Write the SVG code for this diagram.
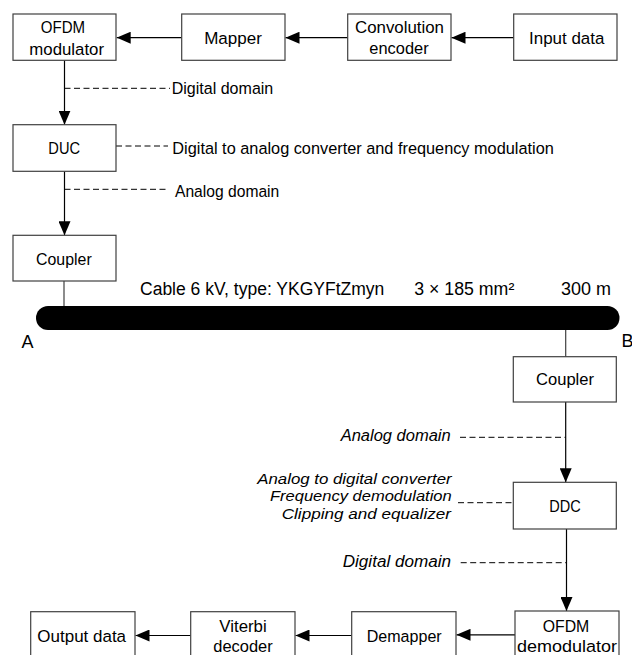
<svg xmlns="http://www.w3.org/2000/svg" width="632" height="655" viewBox="0 0 632 655">
<style>
.box{fill:#fff;stroke:#404040;stroke-width:1.2}
.t{font-family:"Liberation Sans",Arial,sans-serif;font-size:16.8px;fill:#000}
.c{text-anchor:middle}
.i{font-style:italic}
.s{font-size:15.5px}
.big{font-size:18px}
.ln{stroke:#000;stroke-width:1.2;fill:none}
.gl{stroke:#404040;stroke-width:1.2;fill:none}
.d{stroke:#000;stroke-width:1;stroke-dasharray:6 3.5;fill:none}
</style>
<defs>
<marker id="ah" markerUnits="userSpaceOnUse" markerWidth="14" markerHeight="12" refX="14" refY="6" orient="auto">
<path d="M0,0 L14,6 L0,12 z" fill="#000"/>
</marker>
</defs>
<rect x="0" y="0" width="632" height="655" fill="#fff"/>

<g id="connectors">
<line class="ln" x1="181.7" y1="37.7" x2="116.7" y2="37.7" marker-end="url(#ah)"/>
<line class="ln" x1="347.7" y1="37.7" x2="285.5" y2="37.7" marker-end="url(#ah)"/>
<line class="ln" x1="513.7" y1="37.7" x2="451.5" y2="37.7" marker-end="url(#ah)"/>
<line class="ln" x1="64.5" y1="60.3" x2="64.5" y2="124.7" marker-end="url(#ah)"/>
<line class="ln" x1="64.5" y1="171.3" x2="64.5" y2="235.3" marker-end="url(#ah)"/>
<line class="gl" x1="64" y1="281" x2="64" y2="307"/>
<line class="gl" x1="565.7" y1="329" x2="565.7" y2="357"/>
<line class="ln" x1="565.7" y1="402" x2="565.7" y2="482.3" marker-end="url(#ah)"/>
<line class="ln" x1="566.5" y1="529" x2="566.5" y2="611" marker-end="url(#ah)"/>
<line class="ln" x1="515" y1="634.8" x2="456.5" y2="634.8" marker-end="url(#ah)"/>
<line class="ln" x1="351.7" y1="635.5" x2="295.5" y2="635.5" marker-end="url(#ah)"/>
<line class="ln" x1="190.7" y1="635.5" x2="135.5" y2="635.5" marker-end="url(#ah)"/>
<line class="d" x1="64.5" y1="88.3" x2="170" y2="88.3"/>
<line class="d" x1="116" y1="146" x2="168" y2="146"/>
<line class="d" x1="64.5" y1="189.3" x2="168" y2="189.3"/>
<line class="d" x1="460" y1="437.3" x2="565.7" y2="437.3"/>
<line class="d" x1="458" y1="502.7" x2="513.3" y2="502.7"/>
<line class="d" x1="460.7" y1="562.7" x2="566.5" y2="562.7"/>
</g>

<g id="ofdm-mod">
<rect class="box" x="13" y="14" width="103" height="46.3"/>
<text class="t c" x="63" y="32.5" textLength="44.3" lengthAdjust="spacingAndGlyphs">OFDM</text>
<text class="t c" x="66.7" y="55" textLength="74.7" lengthAdjust="spacingAndGlyphs">modulator</text>
</g>
<g id="mapper">
<rect class="box" x="181.7" y="14" width="103.3" height="46.3"/>
<text class="t c" x="233" y="44" textLength="57.7" lengthAdjust="spacingAndGlyphs">Mapper</text>
</g>
<g id="conv-encoder">
<rect class="box" x="347.7" y="14" width="103.3" height="46.3"/>
<text class="t c" x="399.5" y="33.3" textLength="89" lengthAdjust="spacingAndGlyphs">Convolution</text>
<text class="t c" x="399" y="54" textLength="59.3" lengthAdjust="spacingAndGlyphs">encoder</text>
</g>
<g id="input-data">
<rect class="box" x="513.7" y="14" width="103.3" height="46.3"/>
<text class="t c" x="566.7" y="44.3" textLength="75.3" lengthAdjust="spacingAndGlyphs">Input data</text>
</g>
<g id="label-digital-top">
<text class="t" x="171.7" y="94" textLength="101.6" lengthAdjust="spacingAndGlyphs">Digital domain</text>
</g>
<g id="duc">
<rect class="box" x="13" y="124.7" width="103" height="46.6"/>
<text class="t c" x="64.2" y="154" textLength="31.7" lengthAdjust="spacingAndGlyphs">DUC</text>
</g>
<g id="label-dac">
<text class="t" x="172.3" y="154.3" textLength="381.5" lengthAdjust="spacingAndGlyphs">Digital to analog converter and frequency modulation</text>
</g>
<g id="label-analog-top">
<text class="t" x="175" y="197.3" textLength="104.3" lengthAdjust="spacingAndGlyphs">Analog domain</text>
</g>
<g id="coupler-a">
<rect class="box" x="13" y="235.3" width="103" height="45.7"/>
<text class="t c" x="63.9" y="264.5" textLength="55.7" lengthAdjust="spacingAndGlyphs">Coupler</text>
</g>
<g id="cable">
<rect x="36" y="306" width="583.5" height="24" rx="12" ry="12" fill="#000"/>
<text class="t big" x="140" y="295" textLength="244.3" lengthAdjust="spacingAndGlyphs">Cable 6 kV, type: YKGYFtZmyn</text>
<text class="t big" x="414.3" y="295" textLength="100" lengthAdjust="spacingAndGlyphs">3 × 185 mm²</text>
<text class="t big" x="561" y="295" textLength="50" lengthAdjust="spacingAndGlyphs">300 m</text>
<text class="t big" x="21.5" y="347.7">A</text>
<text class="t big" x="621.5" y="347">B</text>
</g>
<g id="coupler-b">
<rect class="box" x="513.3" y="356.7" width="103" height="45.3"/>
<text class="t c" x="565" y="385" textLength="58" lengthAdjust="spacingAndGlyphs">Coupler</text>
</g>
<g id="label-analog-bottom">
<text class="t i" x="340.7" y="440.7" textLength="110" lengthAdjust="spacingAndGlyphs">Analog domain</text>
</g>
<g id="label-adc">
<text class="t i s" x="257.3" y="483.5" textLength="194.4" lengthAdjust="spacingAndGlyphs">Analog to digital converter</text>
<text class="t i s" x="270" y="501" textLength="181.7" lengthAdjust="spacingAndGlyphs">Frequency demodulation</text>
<text class="t i s" x="281.7" y="519.3" textLength="169.3" lengthAdjust="spacingAndGlyphs">Clipping and equalizer</text>
</g>
<g id="ddc">
<rect class="box" x="513.3" y="482.3" width="103" height="46.7"/>
<text class="t c" x="565" y="512" textLength="31.5" lengthAdjust="spacingAndGlyphs">DDC</text>
</g>
<g id="label-digital-bottom">
<text class="t i" x="342.7" y="566.7" textLength="108.3" lengthAdjust="spacingAndGlyphs">Digital domain</text>
</g>
<g id="ofdm-demod">
<rect class="box" x="515" y="611" width="104" height="50"/>
<text class="t c" x="566" y="631.7" textLength="46.6" lengthAdjust="spacingAndGlyphs">OFDM</text>
<text class="t c" x="567" y="652" textLength="100" lengthAdjust="spacingAndGlyphs">demodulator</text>
</g>
<g id="demapper">
<rect class="box" x="351.7" y="611.7" width="104.3" height="50"/>
<text class="t c" x="404.2" y="641.7" textLength="75" lengthAdjust="spacingAndGlyphs">Demapper</text>
</g>
<g id="viterbi">
<rect class="box" x="190.7" y="611.7" width="104.3" height="50"/>
<text class="t c" x="243" y="631.7" textLength="47.4" lengthAdjust="spacingAndGlyphs">Viterbi</text>
<text class="t c" x="243" y="652" textLength="59.4" lengthAdjust="spacingAndGlyphs">decoder</text>
</g>
<g id="output-data">
<rect class="box" x="30.7" y="611.7" width="104.3" height="50"/>
<text class="t c" x="81.7" y="641.7" textLength="88.7" lengthAdjust="spacingAndGlyphs">Output data</text>
</g>
</svg>
